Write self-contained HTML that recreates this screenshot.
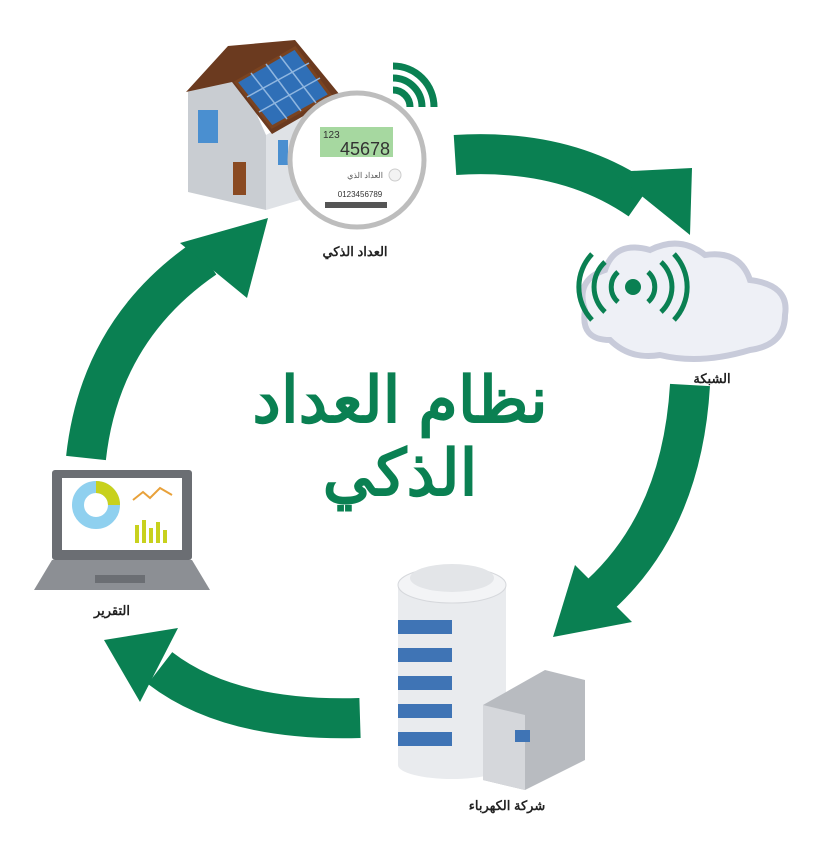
<!DOCTYPE html>
<html><head><meta charset="utf-8"><style>
body{margin:0;background:#fff;width:826px;height:860px;overflow:hidden}
svg{display:block}
text{font-family:"Liberation Sans","Noto Sans CJK SC",sans-serif}
</style></head><body>
<svg width="826" height="860" viewBox="0 0 826 860">
<g fill="none" stroke="#0a8052" stroke-width="40">
<path d="M455,155 Q565,148 640,200"/>
<path d="M690,385 Q682,520 600,595"/>
<path d="M360,718 Q230,722 160,668"/>
<path d="M86,458 Q100,330 205,258"/>
</g>
<g fill="#0a8052">
<polygon points="612,172 692,168 690,235"/>
<polygon points="575,565 632,622 553,637"/>
<polygon points="178,628 140,702 104,640"/>
<polygon points="180,243 247,298 268,218"/>
</g>
<text x="400" y="422" text-anchor="middle" font-size="64" font-weight="bold" fill="#0a8052" direction="rtl">نظام العداد</text>
<text x="400" y="495" text-anchor="middle" font-size="64" font-weight="bold" fill="#0a8052" direction="rtl">الذكي</text>
<!-- house -->
<polygon points="188,92 228,50 266,135 266,210 188,192" fill="#c9cdd2"/>
<polygon points="266,135 334,97 334,190 266,210" fill="#dfe2e6"/>
<polygon points="186,92 228,46 295,40 340,95 272,134 232,82" fill="#6b3a1f"/>
<polygon points="236,82 295,48 330,95 272,127" fill="#2f6fb7" stroke="#7a4320" stroke-width="3"/>
<g stroke="#8fb6e0" stroke-width="1.5"><line x1="251" y1="73" x2="287" y2="119"/><line x1="266" y1="64" x2="301" y2="111"/><line x1="280" y1="56" x2="316" y2="103"/><line x1="247" y1="97" x2="309" y2="63"/><line x1="259" y1="112" x2="320" y2="78"/></g>
<rect x="198" y="110" width="20" height="33" fill="#4a8fd0"/>
<rect x="233" y="162" width="13" height="33" fill="#8a4a22"/>
<rect x="278" y="140" width="10" height="25" fill="#4a8fd0"/>
<!-- meter -->
<circle cx="357" cy="160" r="67" fill="#fff" stroke="#bdbdbd" stroke-width="5"/>
<rect x="320" y="127" width="73" height="30" fill="#a6d8a0"/>
<text x="323" y="138" font-size="10" fill="#333">123</text>
<text x="390" y="155" text-anchor="end" font-size="18" fill="#333">45678</text>
<text x="365" y="178" text-anchor="middle" font-size="8" fill="#555">العداد الذي</text>
<circle cx="395" cy="175" r="6" fill="#f3f3f3" stroke="#ccc"/>
<text x="360" y="197" text-anchor="middle" font-size="8" fill="#333">0123456789</text>
<rect x="325" y="202" width="62" height="6" fill="#555"/>
<g fill="none" stroke="#0a8052" stroke-width="7">
<path d="M393,90 A17,17 0 0 1 410,107"/><path d="M393,78 A29,29 0 0 1 422,107"/><path d="M393,66 A41,41 0 0 1 434,107"/>
</g>
<text x="355" y="256" text-anchor="middle" font-size="13" font-weight="bold" fill="#222">العداد الذكي</text>
<!-- cloud -->
<path d="M610,340 Q580,340 585,310 Q575,280 605,270 Q615,240 650,250 Q680,235 705,255 Q740,250 750,280 Q790,285 785,315 Q785,345 750,350 Q700,365 660,355 Q630,360 610,340Z" fill="#eef0f6" stroke="#c8cbda" stroke-width="6"/>
<circle cx="633" cy="287" r="8" fill="#0a8052"/>
<g fill="none" stroke="#0a8052" stroke-width="5">
<path d="M618,272 A20,20 0 0 0 618,302"/><path d="M648,272 A20,20 0 0 1 648,302"/>
<path d="M605,262 A34,34 0 0 0 605,312"/><path d="M661,262 A34,34 0 0 1 661,312"/>
<path d="M592,254 A48,48 0 0 0 592,320"/><path d="M674,254 A48,48 0 0 1 674,320"/>
</g>
<text x="712" y="383" text-anchor="middle" font-size="13" font-weight="bold" fill="#222">الشبكة</text>
<!-- database -->
<rect x="398" y="585" width="108" height="180" fill="#e9ebee"/>
<ellipse cx="452" cy="765" rx="54" ry="14" fill="#e9ebee"/>
<g fill="#3f74b5"><rect x="398" y="620" width="54" height="14"/><rect x="398" y="648" width="54" height="14"/><rect x="398" y="676" width="54" height="14"/><rect x="398" y="704" width="54" height="14"/><rect x="398" y="732" width="54" height="14"/></g>
<ellipse cx="452" cy="585" rx="54" ry="18" fill="#f3f4f6" stroke="#d6d8dc"/>
<ellipse cx="452" cy="578" rx="42" ry="14" fill="#e3e5e8"/>
<polygon points="483,705 545,670 585,680 585,760 525,790 483,780" fill="#b8bbc0"/>
<polygon points="483,705 525,715 525,790 483,780" fill="#d5d7db"/>
<rect x="515" y="730" width="15" height="12" fill="#3f74b5"/>
<text x="507" y="810" text-anchor="middle" font-size="13" font-weight="bold" fill="#222">شركة الكهرباء</text>
<!-- laptop -->
<rect x="52" y="470" width="140" height="90" rx="3" fill="#6b6e73"/>
<rect x="62" y="478" width="120" height="72" fill="#fff"/>
<circle cx="96" cy="505" r="18" fill="none" stroke="#8fd0ef" stroke-width="12"/>
<path d="M96,487 A18,18 0 0 1 114,505" fill="none" stroke="#c8d11d" stroke-width="12"/>
<g fill="#c8d11d"><rect x="135" y="525" width="4" height="18"/><rect x="142" y="520" width="4" height="23"/><rect x="149" y="528" width="4" height="15"/><rect x="156" y="522" width="4" height="21"/><rect x="163" y="530" width="4" height="13"/></g>
<polyline points="133,500 143,492 150,498 160,488 172,495" fill="none" stroke="#e8a13a" stroke-width="2"/>
<polygon points="52,560 192,560 210,590 34,590" fill="#8c8f94"/>
<rect x="95" y="575" width="50" height="8" fill="#6b6e73"/>
<text x="112" y="615" text-anchor="middle" font-size="13" font-weight="bold" fill="#222">التقرير</text>
</svg>
</body></html>
